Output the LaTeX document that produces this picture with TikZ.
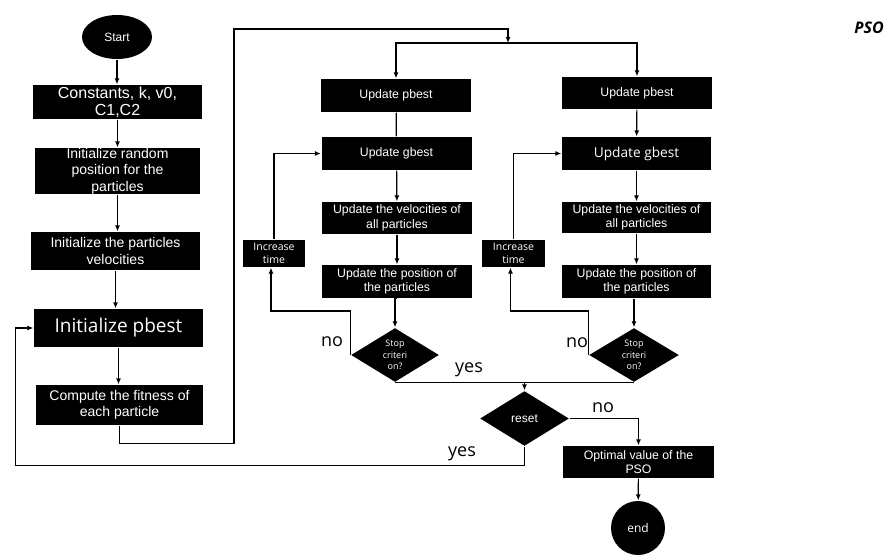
\documentclass[tikz,border=0pt]{standalone}
\usepackage{fontspec}
\setmainfont{Liberation Sans}
\newfontfamily\opensans{Open Sans}
\usetikzlibrary{shapes.geometric,arrows.meta}
\begin{document}
\begin{tikzpicture}[x=1pt,y=-1pt,line width=1.2pt,>={Latex[length=6pt,width=5pt]},
  box/.style={fill=black,text=white,inner sep=0pt,align=center,font=\fontsize{12.3}{14.5}\selectfont},
  bigbox/.style={box,font=\fontsize{14}{16.5}\selectfont},
  decide/.style={diamond,fill=black,text=white,inner sep=0pt,align=center},
  lbl/.style={font=\opensans\fontsize{18}{18}\selectfont}]
\useasboundingbox (0,0) rectangle (891,554);
\def\w{150}
\def\h{33}
% start and initialisation
\node[ellipse,fill=black,text=white,minimum width=70,minimum height=44,font=\fontsize{12}{12}\selectfont] (start) at (117,37) {Start};
\node[box,minimum width=169,minimum height=34,font=\fontsize{16}{17}\selectfont] (const) at (117.5,102) {Constants, k, v0,\\C1,C2};
\node[bigbox,minimum width=165,minimum height=46] (initpos) at (117.5,171) {Initialize random\\position for the\\particles};
\node[bigbox,minimum width=169,minimum height=38] (initvel) at (115.5,251) {Initialize the particles\\velocities};
\node[box,minimum width=169,minimum height=38,font=\opensans\fontsize{19}{19}\selectfont] (initpb) at (118.5,328) {Initialize pbest};
\node[bigbox,minimum width=167,minimum height=40] (fit) at (119.5,405) {Compute the fitness of\\each particle};
\draw[->] (start.south) -- (start.south |- const.north);
\draw[->] (const.south) -- (const.south |- initpos.north);
\draw[->] (initpos.south) -- (initpos.south |- initvel.north);
\draw[->] (initvel.south) -- (initvel.south |- initpb.north);
\draw[->] (initpb.south) -- (initpb.south |- fit.north);
% first loop
\node[box,minimum width=\w,minimum height=\h] (pb1) at (396,95.5) {Update pbest};
\node[box,minimum width=\w,minimum height=\h] (gb1) at (396.5,153.5) {Update gbest};
\node[box,minimum width=\w,minimum height=32] (vel1) at (397,218) {Update the velocities of\\all particles};
\node[box,minimum width=\w,minimum height=\h] (pos1) at (397,281.5) {Update the position of\\the particles};
\node[decide,minimum width=88,minimum height=54,font=\opensans\fontsize{9}{11.5}\selectfont] (stop1) at (395,355) {Stop\\criteri\\on?};
\node[box,minimum width=62,minimum height=27,font=\opensans\fontsize{10.5}{13}\selectfont] (inc1) at (274,253.5) {Increase\\time};
% second loop
\node[box,minimum width=\w,minimum height=32] (pb2) at (637,93) {Update pbest};
\node[box,minimum width=149,minimum height=\h,font=\opensans\fontsize{13.7}{14}\selectfont] (gb2) at (636.5,153.5) {Update gbest};
\node[box,minimum width=149,minimum height=31] (vel2) at (636.5,217.5) {Update the velocities of\\all particles};
\node[box,minimum width=149,minimum height=\h] (pos2) at (636.5,281.5) {Update the position of\\the particles};
\node[decide,minimum width=90,minimum height=54,font=\opensans\fontsize{9}{11.5}\selectfont] (stop2) at (634,355) {Stop\\criteri\\on?};
\node[box,minimum width=63,minimum height=27,font=\opensans\fontsize{10.5}{13}\selectfont] (inc2) at (513.5,253.5) {Increase\\time};
% end
\node[decide,minimum width=89,minimum height=55,font=\fontsize{12}{12}\selectfont] (reset) at (524.5,418.5) {reset};
\node[box,minimum width=151,minimum height=32] (opt) at (638.5,462) {Optimal value of the\\PSO};
\node[circle,fill=black,text=white,minimum size=54,inner sep=0pt,font=\opensans\fontsize{12}{12}\selectfont] (endn) at (638,528) {end};
\node[font=\opensans\bfseries\itshape\fontsize{16}{16}\selectfont] (title) at (869,28) {PSO};
\coordinate (bus) at (508,43);
\coordinate (join) at (524.5,382);
\draw[->] (fit.south) -- ++(0,18) -| (234,29) -| (bus);
\draw[->] (bus) -| (pb1.north);
\draw[->] (bus) -| (pb2.north);
\draw (pb1) -- (gb1);
\draw[->] (gb1) -- (vel1);
\draw[->] (vel1) -- (pos1);
\draw[->] (pos1.south) -- (pos1.south -| stop1.north) -- (stop1.north);
\draw[->] (stop1.west) -- ++(0,-44) -| ([xshift=-3pt]inc1.south);
\draw[->] ([xshift=0pt]inc1.north) |- (gb1.west);
\draw[->] (pb2) -- (gb2);
\draw[->] (gb2) -- (vel2);
\draw[->] (vel2) -- (pos2);
\draw[->] (pos2.south -| stop2.north) -- (stop2.north);
\draw[->] (stop2.west) -- ++(0,-44) -| ([xshift=-3pt]inc2.south);
\draw[->] (inc2.north) |- (gb2.west);
\draw (stop1.south) -- (stop2.south);
\draw[->] (join) -- (reset.north);
\draw[->] (reset.east) -| (opt.north);
\draw[->] (opt) -- (endn);
\draw[->] (reset.south) -- ++(0,19) -| ([xshift=-18pt]initpb.west) -- (initpb.west);
\node[lbl] (no1) at (332,342) {no};
\node[lbl] (no2) at (577,343) {no};
\node[lbl] (yes1) at (469,370) {yes};
\node[lbl] (no3) at (603,408) {no};
\node[lbl] (yes2) at (462,454) {yes};
\end{tikzpicture}
\end{document}
